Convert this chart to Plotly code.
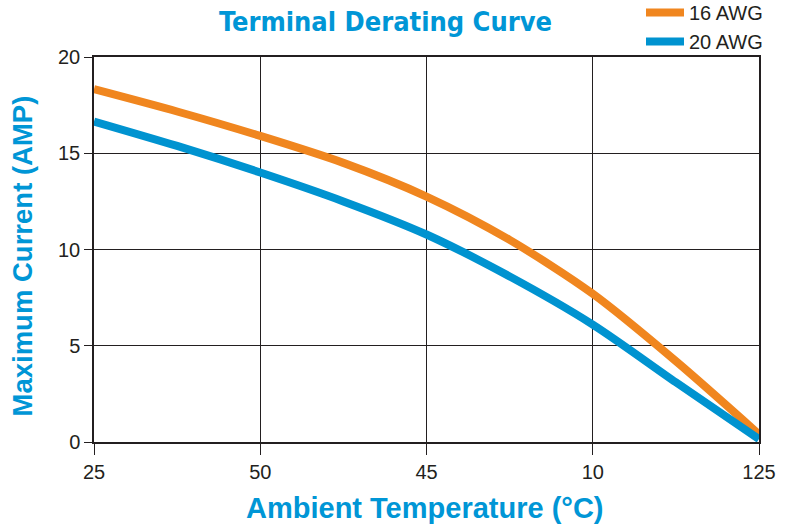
import plotly.graph_objects as go

x_pos = [0, 0.5, 1, 1.5, 2, 2.5, 3, 3.5, 4]
awg16 = [18.33, 17.17, 15.9, 14.5, 12.75, 10.5, 7.7, 4.2, 0.4]
awg20 = [16.65, 15.38, 14.0, 12.5, 10.78, 8.6, 6.1, 3.1, 0.15]
tick_vals = [0, 1, 2, 3, 4]
tick_text = ["25", "50", "45", "10", "125"]
y_ticks = [0, 5, 10, 15, 20]

ORANGE = "#F0861F"
BLUE = "#0093D0"
TITLE_BLUE = "#0096D6"
TXT = "#231F20"
BOLD_FONT = "Liberation Sans, Arial"

W, H = 788, 525

fig = go.Figure()
fig.add_trace(go.Scatter(x=x_pos, y=awg16, mode="lines", name="16 AWG",
                         line=dict(color=ORANGE, width=8, shape="spline", smoothing=0.8)))
fig.add_trace(go.Scatter(x=x_pos, y=awg20, mode="lines", name="20 AWG",
                         line=dict(color=BLUE, width=8, shape="spline", smoothing=0.8)))

fig.update_layout(
    width=W, height=H,
    margin=dict(l=94, r=W - 759, t=57, b=H - 442, autoexpand=False),
    paper_bgcolor="white", plot_bgcolor="white",
    title=dict(text="<b>Terminal Derating Curve</b>", x=385.5 / W, xanchor="center",
               y=1 - 22 / H, yanchor="middle",
               font=dict(family="DejaVu Sans Condensed, Liberation Sans Narrow, Arial", size=27, color=TITLE_BLUE)),
    showlegend=True,
    legend=dict(xref="container", yref="container", x=641 / W, y=1 - 27 / H,
                xanchor="left", yanchor="middle",
                font=dict(family="Liberation Sans, Arial", size=20, color=TXT),
                bgcolor="rgba(0,0,0,0)", tracegroupgap=0, itemwidth=38),
    font=dict(family="Liberation Sans, Arial", color=TXT),
    annotations=[
        dict(text="<b>Ambient Temperature (°C)</b>", xref="paper", yref="paper",
             x=(424.5 - 94) / 665, y=(442 - 508) / 385, xanchor="center", yanchor="middle",
             showarrow=False, font=dict(family=BOLD_FONT, size=29, color=TITLE_BLUE)),
        dict(text="<b>Maximum Current (AMP)</b>", xref="paper", yref="paper",
             x=(22 - 94) / 665, y=(442 - 256.5) / 385, xanchor="center", yanchor="middle",
             textangle=-90, showarrow=False, font=dict(family=BOLD_FONT, size=27.5, color=TITLE_BLUE)),
    ],
)

fig.update_xaxes(
    range=[0, 4], tickvals=tick_vals, ticktext=tick_text, automargin=False,
    showgrid=True, gridcolor="#231F20", gridwidth=1.2,
    showline=True, linecolor="#231F20", linewidth=1.5, mirror=True,
    ticks="outside", ticklen=11, tickcolor="#231F20", tickwidth=1.2,
    tickfont=dict(size=20, color=TXT),
    zeroline=False,
)
fig.update_yaxes(
    range=[0, 20], tickvals=y_ticks, automargin=False,
    showgrid=True, gridcolor="#231F20", gridwidth=1.2,
    showline=True, linecolor="#231F20", linewidth=1.5, mirror=True,
    ticks="outside", ticklen=8, tickcolor="#231F20", tickwidth=1.2,
    tickfont=dict(size=20, color=TXT),
    zeroline=False,
)

fig.write_html("out.html", config={"displayModeBar": False},
               post_script="document.body.style.margin='0';document.body.style.overflow='hidden';")
